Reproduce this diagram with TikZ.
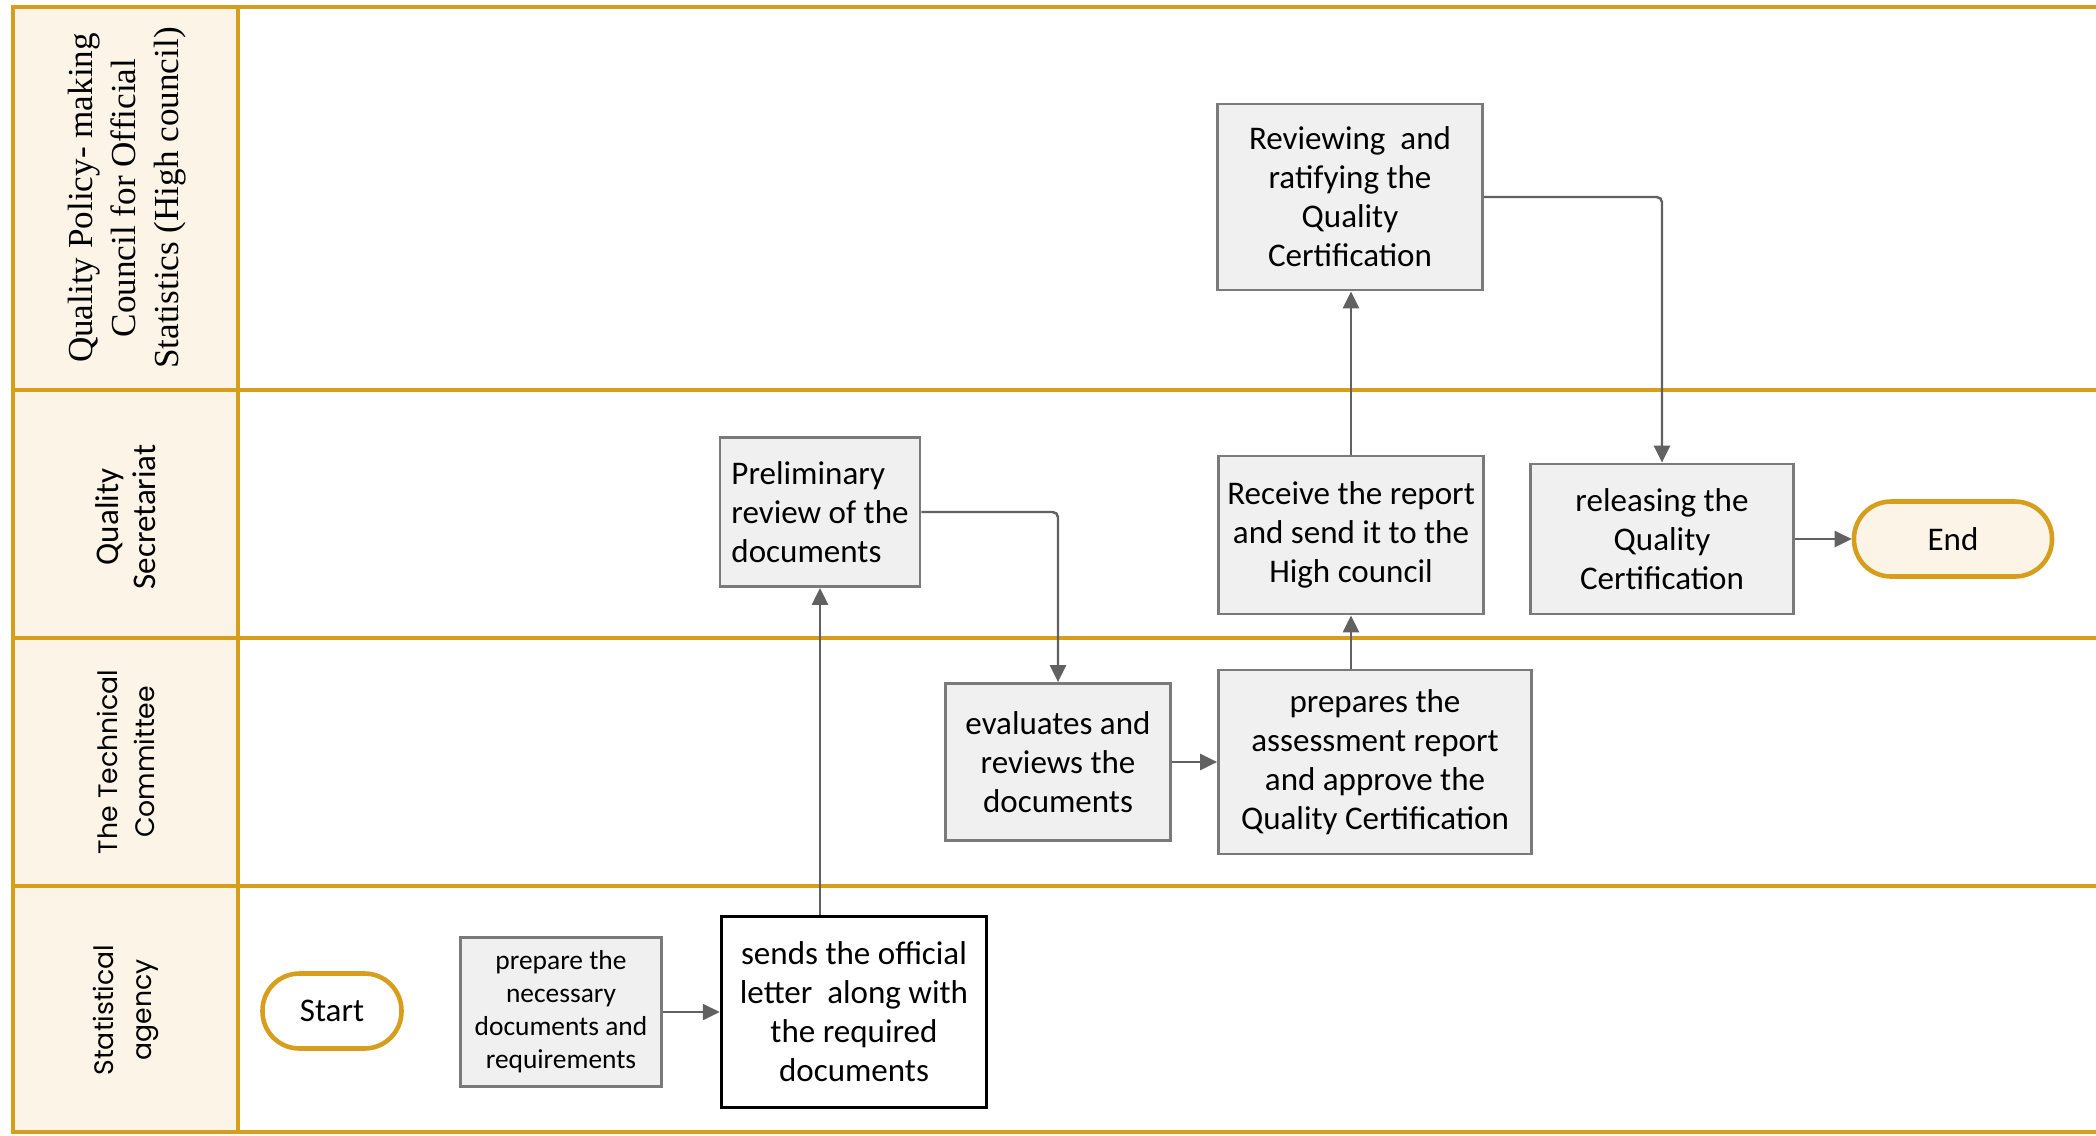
\documentclass[tikz,border=0pt]{standalone}
\usepackage{fontspec}
\setmainfont{Carlito}
\newfontfamily\councilfont{Liberation Serif}
\newfontfamily\lanefont{Poppins}
\usetikzlibrary{arrows.meta}
\definecolor{lanegold}{RGB}{214,158,28}
\definecolor{laneback}{RGB}{253,244,232}
\colorlet{boxfill}{black!6}
\colorlet{boxgray}{black!52}
\colorlet{flowgray}{black!62}
\tikzset{
    laneline/.style={lanegold,line width=1.4pt,line cap=rect},
    lanehead/.style={rotate=90,align=center,inner sep=0pt},
    procbox/.style={draw=boxgray,fill=boxfill,line width=0.8pt,inner sep=1pt,align=center,font=\fontsize{9.4}{11.1}\selectfont},
    letterbox/.style={procbox,draw=black,fill=white,line width=1pt},
    pill/.style={draw=lanegold,line width=1.3pt,rounded corners=3.7mm,minimum height=7.5mm,font=\fontsize{9.4}{11.1}\selectfont},
    flow/.style={flowgray,line width=0.7pt,rounded corners=1.5pt,-{Triangle[length=1.7mm,width=1.6mm]}}
}

\begin{document}
    \begin{tikzpicture}[x=0.1mm,y=-0.1mm]
        \useasboundingbox (0,0) rectangle (2096,1135);
        \fill [laneback] (13,7) rectangle (238,1132);
        \foreach \y in {7,390,638,886,1132} {
            \draw [laneline] (13,\y) -- (2096,\y);
        }
        \foreach \x in {13,238} {
            \draw [laneline] (\x,7) -- (\x,1132);
        }
        \node [lanehead,font=\councilfont\fontsize{10}{12.2}\selectfont] (council) at (127,198)
            {Quality Policy- making\\Council for Official\\Statistics (High council)};
        \node [lanehead,font=\fontsize{9.4}{10.6}\selectfont] (secretariat) at (126,517)
            {Quality\\Secretariat};
        \node [lanehead,font=\lanefont\fontsize{7.6}{10.6}\selectfont] (committee) at (126,762)
            {The Technical\\Committee};
        \node [lanehead,font=\lanefont\fontsize{7.6}{10.6}\selectfont] (agency) at (126,1010)
            {Statistical\\agency};
        \node [pill,fill=white,minimum width=13.9mm] (start) at (332,1011) {Start};
        \node [procbox,minimum width=20.1mm,minimum height=14.9mm,font=\fontsize{7.8}{9.4}\selectfont] (docs) at (561,1012)
            {prepare the\\necessary\\documents and\\requirements};
        \node [letterbox,minimum width=26.5mm,minimum height=19.1mm] (send) at (854,1012)
            {sends the official\\letter\ \ along with\\the required\\documents};
        \node [procbox,align=left,minimum width=20mm,minimum height=14.9mm] (prelim) at (820,512)
            {Preliminary\\review of the\\documents};
        \node [procbox,minimum width=22.5mm,minimum height=15.7mm] (eval) at (1058,762)
            {evaluates and\\reviews the\\documents};
        \node [procbox,minimum width=31.3mm,minimum height=18.4mm] (report) at (1375,762)
            {prepares the\\assessment report\\and approve the\\Quality Certification};
        \node [procbox,minimum width=26.5mm,minimum height=15.8mm] (recv) at (1351,535)
            {Receive the report\\and send it to the\\High council};
        \node [procbox,minimum width=26.5mm,minimum height=18.6mm] (ratify) at (1350,197)
            {Reviewing\ \ and\\ratifying the\\Quality\\Certification};
        \node [procbox,minimum width=26.3mm,minimum height=15mm] (release) at (1662,539)
            {releasing the\\Quality\\Certification};
        \node [pill,fill=laneback,minimum width=19.8mm] (finish) at (1953,539) {End};
        \draw [flow] (docs.east) -- (send.west);
        \draw [flow] (prelim.south |- send.north) -- (prelim.south);
        \draw [flow] (prelim.east) -| (eval.north);
        \draw [flow] (eval.east) -- (report.west);
        \draw [flow] (recv.south |- report.north) -- (recv.south);
        \draw [flow] (recv.north) -- (recv.north |- ratify.south);
        \draw [flow] (ratify.east) -| (release.north);
        \draw [flow] (release.east) -- (finish.west);
    \end{tikzpicture}
\end{document}
